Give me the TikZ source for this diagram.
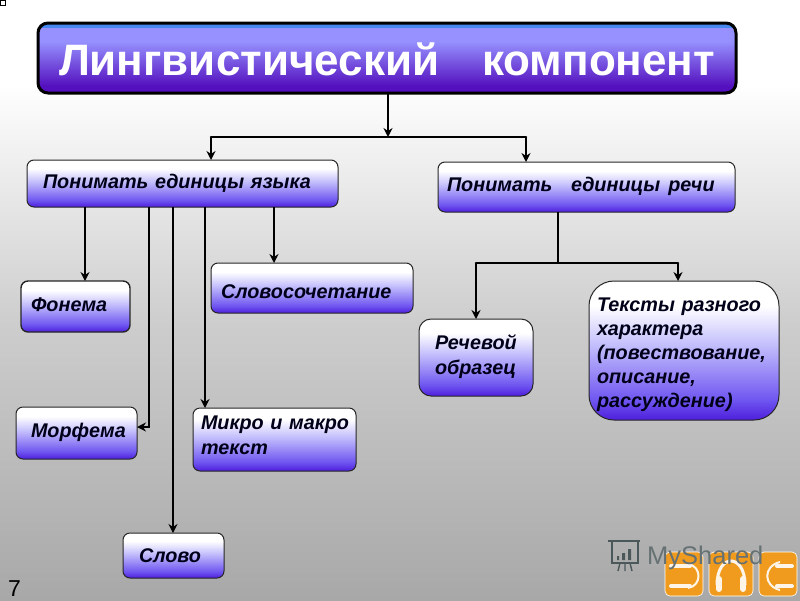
\documentclass[tikz,border=0pt]{standalone}
\usepackage{fontspec}
\setmainfont{Liberation Sans}
\usetikzlibrary{arrows.meta}
\definecolor{titleD}{RGB}{84,16,190}
\definecolor{titleL}{RGB}{150,145,255}
\definecolor{titleB}{RGB}{70,135,240}
\definecolor{boxD}{RGB}{78,30,220}
\definecolor{boxM}{RGB}{110,85,240}
\definecolor{boxL}{RGB}{195,190,252}
\definecolor{bgD}{RGB}{168,168,168}
\definecolor{bgM}{RGB}{205,205,205}
\definecolor{iconO}{RGB}{240,155,30}
\definecolor{markG}{RGB}{75,88,90}
\pgfdeclareverticalshading{titleshade}{100bp}{
 color(0bp)=(titleD); color(25bp)=(titleD); color(30bp)=(titleD);
 color(62bp)=(titleL); color(71.5bp)=(titleL); color(72bp)=(titleB); color(75bp)=(titleB); color(100bp)=(titleB)}
\pgfdeclareverticalshading{boxshade}{100bp}{
 color(0bp)=(boxD); color(25bp)=(boxD); color(32bp)=(boxM); color(52bp)=(boxL); color(66bp)=(white); color(75bp)=(white); color(100bp)=(white)}
\pgfdeclareverticalshading{bgshade}{100bp}{
 color(0bp)=(bgD); color(25bp)=(bgD); color(48bp)=(bgM); color(68bp)=(white); color(75bp)=(white); color(100bp)=(white)}
\tikzset{
 conn/.style={line width=2.6pt,draw=black},
 arr/.style={conn,-{Stealth[length=9pt,width=9pt]}},
 box/.style={anchor=north west,draw=black!85,line width=1pt,rounded corners=7pt,shading=boxshade,
   font=\bfseries\itshape\fontsize{19.8}{24}\selectfont,text=black!90!blue,align=left,inner sep=0pt,outer sep=0pt},
 icon/.style={fill=iconO,draw=white,line width=.6pt,rounded corners=5pt},
 iconline/.style={draw=white!90!iconO,line width=4pt,line cap=round},
}
\begin{document}
\begin{tikzpicture}[x=1pt,y=-1pt]
\useasboundingbox (0,0) rectangle (800,600);
\path[shading=bgshade] (0,0) rectangle (800,600);
\node[draw=black,line width=.8pt,fill=white,minimum size=5pt,inner sep=0pt,anchor=center] (sq) at (3,3) {};

\node[anchor=north west,draw=black,line width=3pt,rounded corners=10pt,shading=titleshade,
  minimum width=698pt,minimum height=70pt,inner sep=0pt,outer sep=0pt,text=white,
  font=\bfseries\fontsize{44}{48}\selectfont] (title) at (38,23) {\rule{0pt}{36pt}Лингвистический\hspace{43pt}компонент};

\node[box,minimum width=311pt,minimum height=47pt,text width=279pt] (lang) at (27,160) {Понимать единицы языка};
\node[box,minimum width=297pt,minimum height=50pt,text width=279pt] (speech) at (438,162) {Понимать\hspace{12pt} единицы\hspace{8pt}речи\par\vspace{2pt}};
\node[box,minimum width=109pt,minimum height=51pt,text width=89pt,line width=1.4pt] (fon) at (21,281) {Фонема\par\vspace{4pt}};
\node[box,minimum width=121pt,minimum height=52pt,text width=91pt] (mor) at (16,407) {Морфема\par\vspace{2pt}};
\node[box,minimum width=202pt,minimum height=50pt,text width=182pt] (sl) at (211,263) {\rule{0pt}{21pt}Словосочетание};
\node[box,minimum width=163pt,minimum height=63pt,text width=147pt] (mik) at (193,408) {\mbox{Микро и макро}\\[1pt]текст\par\vspace{8pt}};
\node[box,minimum width=101pt,minimum height=45pt,text width=69pt] (slovo) at (123,533) {Слово};
\node[box,minimum width=114pt,minimum height=77pt,text width=82pt,rounded corners=12pt] (rech) at (419,319) {Речевой\\[1pt]образец\par\vspace{2pt}};
\node[box,minimum width=190pt,minimum height=139pt,text width=174pt,rounded corners=25pt] (tex) at (589,281) {\rule{0pt}{23pt}\mbox{Тексты разного}\\\mbox{характера}\\\mbox{(повествование,}\\описание,\\рассуждение)};

\coordinate (jt) at (388,137);
\coordinate (jl) at (211,137);
\coordinate (jr) at (526,137);
\draw[arr] (title.south -| jt) -- (jt);
\draw[conn,line cap=round] (jl) -- (jr);
\draw[arr] (jl) -- (lang.north -| jl);
\draw[arr] (jr) -- (speech.north -| jr);

\coordinate (a) at (85,207);
\coordinate (b) at (149,207);
\coordinate (c) at (173,207);
\coordinate (d) at (205,207);
\coordinate (e) at (274,207);
\coordinate (mj) at (0,427);
\draw[arr] (lang.south -| a) -- (fon.north -| a);
\draw[arr] (lang.south -| b) |- (mor.east |- mj);
\draw[arr] (lang.south -| c) -- (slovo.north -| c);
\draw[arr] (lang.south -| d) -- (mik.north -| d);
\draw[arr] (lang.south -| e) -- (sl.north -| e);

\coordinate (js) at (558,263);
\coordinate (jsl) at (476,263);
\coordinate (jsr) at (678,263);
\draw[conn] (speech.south -| js) -- (js);
\draw[conn,line cap=round] (jsl) -- (jsr);
\draw[arr] (jsl) -- (rech.north -| jsl);
\draw[arr] (jsr) -- (tex.north -| jsr);

\node[anchor=base west,inner sep=0pt,font=\fontsize{23}{26}\selectfont] (num) at (8,596) {7};

% corner icons
\draw[icon] (665,552) rectangle (703,596);
\draw[iconline] (671,566) -- (690,566);
\draw[iconline] (671,586) -- (690,586);
\draw[draw=white!90!iconO,line width=2pt] (688,564) .. controls (702,566) and (702,586) .. (688,588);
\draw[icon] (709,552) rectangle (753,596);
\draw[draw=white!90!iconO,line width=3pt] (717,585) .. controls (717,553) and (745,553) .. (745,585);
\draw[iconline,line width=6pt] (719,579) -- (719,589);
\draw[iconline,line width=6pt] (743,579) -- (743,589);
\draw[icon] (759,552) rectangle (797,596);
\draw[iconline] (777,566) -- (792,566);
\draw[iconline] (777,586) -- (792,586);
\draw[draw=white!90!iconO,line width=2pt] (780,562) .. controls (763,566) and (763,586) .. (780,590);

% watermark
\node[anchor=base west,inner sep=0pt,text=markG!85,font=\fontsize{25.5}{30}\selectfont] (mark) at (647,564) {MyShared};
\draw[markG,line width=1.6pt] (612,541) rectangle (638,563);
\draw[markG,line width=1.6pt] (608,541) -- (640,541);
\draw[markG,line width=1.4pt] (620,563) -- (618,571) (625,563) -- (625,571) (630,563) -- (632,571);
\fill[markG] (617,556) rectangle (619,560) (622,553) rectangle (625,560) (628,549) rectangle (631,560);
\end{tikzpicture}
\end{document}
